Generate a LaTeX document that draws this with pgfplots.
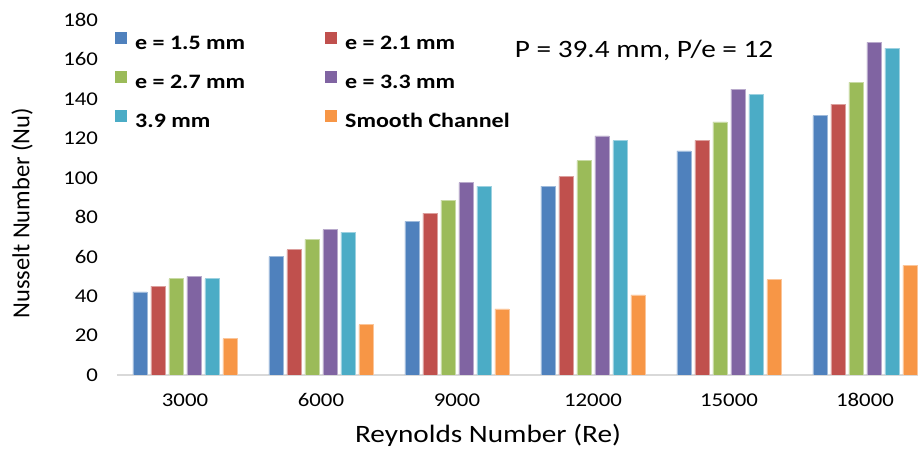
\documentclass[border=0pt]{standalone}
\usepackage{fontspec}
\setmainfont{Carlito}[FakeStretch=1.17]
\newfontfamily\ylfont{Carlito}
\usepackage{pgfplots}
\usepackage{pgfplotstable}
\pgfplotsset{compat=1.18}
\usetikzlibrary{calc}
\definecolor{cA}{HTML}{4F81BD}
\definecolor{cB}{HTML}{C0504D}
\definecolor{cC}{HTML}{9BBB59}
\definecolor{cD}{HTML}{8064A2}
\definecolor{cE}{HTML}{4BACC6}
\definecolor{cF}{HTML}{F79646}
\pgfplotstableread{
x a b c d e f
0 42.1 45.0 48.8 50.0 48.8 18.4
1 60.0 63.5 68.8 73.7 72.4 25.5
2 77.9 82.1 88.7 97.5 95.8 33.5
3 95.8 100.6 108.7 121.2 118.8 40.6
4 113.6 119.0 128.3 145.0 142.3 48.3
5 131.5 137.3 148.4 168.7 165.7 55.6
}\datatable
\newcommand{\lstrut}{\rule[-3pt]{0pt}{16pt}}
\begin{document}
\begin{tikzpicture}
\begin{axis}[name=ax, scale only axis, width=801pt, height=355pt,
  ybar=4pt, bar width=14pt,
  xmin=-0.5, xmax=5.39, ymin=0, ymax=180, enlargelimits=false,
  xtick={0,1,2,3,4,5}, xticklabels={3000,6000,9000,12000,15000,18000},
  ytick={0,20,...,180},
  axis x line=bottom, axis y line=left,
  x axis line style={-, draw=black!15, line width=1.2pt},
  y axis line style={draw=none},
  major tick length=0pt,
  /pgf/number format/assume math mode=true,
  tick label style={font=\fontsize{19.5}{23}\selectfont},
  yticklabel style={xshift=-15.5pt},
  xticklabel style={yshift=-15pt},
  xlabel={Reynolds Number (Re)},
  xlabel style={at={(axis description cs:0.4632,-0.1915)}, anchor=base, font=\fontsize{25}{30}\selectfont},
  ylabel={Nusselt Number (Nu)},
  ylabel style={at={(axis description cs:-0.1186,0.456)}, anchor=center, font=\ylfont\fontsize{24.5}{29}\selectfont},
  legend columns=2,
  legend cell align=left,
  legend style={at={(axis description cs:-0.0062,0.971)}, anchor=north west, draw=none, fill=none,
    font=\bfseries\fontsize{20.5}{24}\selectfont, row sep=20.5pt, column sep=0pt,
    nodes={inner sep=0pt},
    /tikz/every odd column/.append style={column sep=8pt}},
  legend image code/.code={\fill[#1,draw=none] (0pt,-1pt) rectangle (12pt,11pt);},
]
\addplot[fill=cA, draw=cA!55!white, line width=0.7pt] table[x=x,y=a]{\datatable};
\addlegendentry{\makebox[190pt][l]{\lstrut e = 1.5 mm}}
\addplot[fill=cB, draw=cB!55!white, line width=0.7pt] table[x=x,y=b]{\datatable};
\addlegendentry{\lstrut e = 2.1 mm}
\addplot[fill=cC, draw=cC!55!white, line width=0.7pt] table[x=x,y=c]{\datatable};
\addlegendentry{\makebox[190pt][l]{\lstrut e = 2.7 mm}}
\addplot[fill=cD, draw=cD!55!white, line width=0.7pt] table[x=x,y=d]{\datatable};
\addlegendentry{\lstrut e = 3.3 mm}
\addplot[fill=cE, draw=cE!55!white, line width=0.7pt] table[x=x,y=e]{\datatable};
\addlegendentry{\makebox[190pt][l]{\lstrut 3.9 mm}}
\addplot[fill=cF, draw=cF!55!white, line width=0.7pt] table[x=x,y=f]{\datatable};
\addlegendentry{\lstrut Smooth Channel}
\node[anchor=base, font=\fontsize{25}{30}\selectfont] at (axis description cs:0.658,0.893) {P = 39.4 mm, P/e = 12};
\end{axis}
\pgfresetboundingbox
\path ($(ax.south west)+(-117pt,-74pt)$) rectangle ($(ax.north east)+(0pt,20pt)$);
\end{tikzpicture}
\end{document}
